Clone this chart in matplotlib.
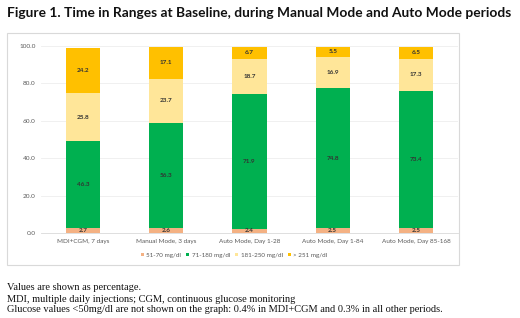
import matplotlib
matplotlib.use("Agg")
import matplotlib.pyplot as plt
from matplotlib.patches import Rectangle
import numpy as np

categories = ["MDI+CGM, 7 days", "Manual Mode, 3 days", "Auto Mode, Day 1-28",
              "Auto Mode, Day 1-84", "Auto Mode, Day 85-168"]
series_names = ["51-70 mg/dl", "71-180 mg/dl", "181-250 mg/dl", "> 251 mg/dl"]
v_51_70 = [2.7, 2.6, 2.4, 2.5, 2.5]
v_71_180 = [46.3, 56.3, 71.9, 74.8, 73.4]
v_181_250 = [25.8, 23.7, 18.7, 16.9, 17.3]
v_251 = [24.2, 17.1, 6.7, 5.5, 6.5]
yticks = [0, 20, 40, 60, 80, 100]

colors = ["#F4B183", "#00B050", "#FFE699", "#FFC000"]
series = [v_51_70, v_71_180, v_181_250, v_251]

fig = plt.figure(figsize=(5.2, 3.18), dpi=100)
W, H = 520, 318

fig.text(7 / W, 1 - 13 / H, "Figure 1. Time in Ranges at Baseline, during Manual Mode and Auto Mode periods",
         fontsize=9.9, fontweight="bold", family="Lato", va="center", ha="left", color="#111111")

# chart frame
frame = Rectangle((7 / W, 1 - 265 / H), (459 - 7) / W, (265 - 33) / H, transform=fig.transFigure,
                  facecolor="white", edgecolor="#D9D9D9", linewidth=0.8, zorder=-5)
fig.patches.append(frame)

ax = fig.add_axes([41.4 / W, 1 - 233 / H, (457.6 - 41.4) / W, (233 - 46) / H])
ax.set_zorder(2)
ax.patch.set_alpha(0)
x = np.arange(len(categories))
bottom = np.zeros(len(categories))
for vals, c, name in zip(series, colors, series_names):
    vals = np.array(vals)
    ax.bar(x, vals, 0.41, bottom=bottom, color=c, label=name, zorder=3)
    for xi, b, v in zip(x, bottom, vals):
        ax.text(xi, b + v / 2, f"{v:.1f}", ha="center", va="center", fontsize=4.6,
                fontweight="bold", family="Lato", color="#333333", zorder=4)
    bottom += vals

ax.set_xlim(-0.5, len(categories) - 0.5)
ax.set_ylim(0, 100)
ax.set_yticks(yticks)
ax.set_yticklabels([f"{t:.1f}" for t in yticks], family="Lato")
ax.set_xticks(x)
ax.set_xticklabels(categories, family="Lato")
ax.tick_params(axis="both", length=0, labelsize=4.6, colors="#595959", pad=4)
ax.grid(axis="y", color="#EEEEEE", linewidth=0.6, zorder=0)
for s in ax.spines.values():
    s.set_visible(False)
ax.spines["bottom"].set_visible(True)
ax.spines["bottom"].set_color("#D9D9D9")
ax.spines["bottom"].set_linewidth(0.6)

handles, labels = ax.get_legend_handles_labels()
fig.legend(handles, labels, loc="center", bbox_to_anchor=(234 / W, 1 - 255 / H), ncol=4,
           frameon=False, prop={"family": "Lato", "size": 4.5}, handlelength=0.5, handleheight=0.5,
           columnspacing=0.8, handletextpad=0.4, labelcolor="#595959")

notes = ["Values are shown as percentage.",
         "MDI, multiple daily injections; CGM, continuous glucose monitoring",
         "Glucose values <50mg/dl are not shown on the graph: 0.4% in MDI+CGM and 0.3% in all other periods."]
for i, n in enumerate(notes):
    fig.text(7 / W, 1 - (288 + 11 * i) / H, n, fontsize=7.5, family="Liberation Serif",
             va="center", ha="left", color="#111111")

fig.savefig("out.png", dpi=100)
